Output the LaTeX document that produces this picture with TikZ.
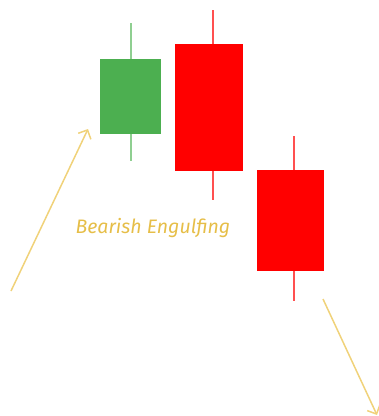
\documentclass[tikz,border=0pt]{standalone}
\usepackage{fontspec}
\setmainfont{Fira Sans}
\usetikzlibrary{arrows.meta}
\definecolor{bull}{HTML}{4CAF50}
\definecolor{bullwick}{HTML}{8FCF91}
\definecolor{bear}{HTML}{FF0000}
\definecolor{bearwick}{HTML}{FF5050}
\definecolor{trend}{HTML}{F0D27A}
\definecolor{lblcolor}{HTML}{E6BE48}
\tikzset{
  body/.style={draw=none, inner sep=0pt, outer sep=0pt},
  wick/.style={line width=1.4pt},
  trendarrow/.style={trend, line width=1.5pt, -{Straight Barb[length=7pt,width=14pt,line width=1.5pt]}}
}
\begin{document}
\begin{tikzpicture}[x=1pt,y=-1pt]
\useasboundingbox (0,0) rectangle (379,416);
% green candle
\coordinate (g1) at (131,23); \coordinate (g2) at (131,161);
\draw[wick, bullwick] (g1) -- (g2);
\node[body, fill=bull, minimum width=61pt, minimum height=75pt] (gb) at (130.5,96.5) {};
% red candle 1
\coordinate (r1) at (213,10); \coordinate (r2) at (213,200);
\draw[wick, bearwick] (r1) -- (r2);
\node[body, fill=bear, minimum width=68pt, minimum height=127pt] (rb1) at (209,107.5) {};
% red candle 2
\coordinate (s1) at (294,136); \coordinate (s2) at (294,301);
\draw[wick, bearwick] (s1) -- (s2);
\node[body, fill=bear, minimum width=67pt, minimum height=101pt] (rb2) at (290.5,220.5) {};
% arrows
\coordinate (a1) at (11,291); \coordinate (a2) at (88,129);
\draw[trendarrow] (a1) -- (a2);
\coordinate (b1) at (323,299); \coordinate (b2) at (377,415);
\draw[trendarrow] (b1) -- (b2);
% label
\node[text=lblcolor, font=\itshape\fontsize{19.5}{22}\selectfont, inner sep=0pt] (lbl) at (153,228) {Bearish Engulfing};
\end{tikzpicture}
\end{document}
